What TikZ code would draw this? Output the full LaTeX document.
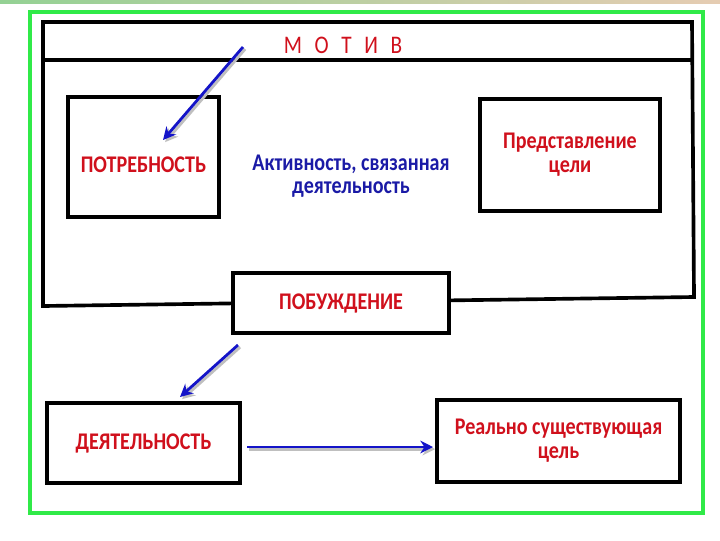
\documentclass[tikz,border=0pt]{standalone}
\usepackage{fontspec}
\setmainfont{Carlito}
\newfontfamily\narrowfont[FakeStretch=0.84]{Carlito}
\usepackage{xcolor}
\usetikzlibrary{positioning, arrows.meta}
\definecolor{motivred}{HTML}{D0101C}
\definecolor{textblue}{HTML}{1A1AA6}
\definecolor{arrowblue}{HTML}{1414C8}
\definecolor{framegreen}{HTML}{30EA48}

\begin{document}
\begin{tikzpicture}[x=0.025cm, y=-0.025cm,
    box/.style={draw, line width=2.6pt, fill=white, inner sep=0pt, align=center,
      text=motivred, font=\narrowfont\bfseries\fontsize{17}{17}\selectfont},
    arr/.style={-{Stealth[length=9pt, width=9pt]}, line width=2pt, draw=arrowblue,
      preaction={draw=black!25, line width=2pt,
        transform canvas={shift={(1.5pt,-1.5pt)}}}}]
    \useasboundingbox[fill=white] (0,0) rectangle (720,540);
    \fill[left color=green!40!gray!60, right color=brown!40] (0,0) rectangle (720,3);
    \draw[framegreen, line width=2.2pt] (30,12) rectangle (703,513);
    % motiv frame
    \draw[line width=2.6pt] (43,22) -- (692,22) -- (694,297) -- (43,306) -- cycle;
    \draw[line width=2.6pt] (44,60) -- (692,60);
    \node[text=motivred, font=\narrowfont\fontsize{18}{18}\selectfont] (motiv) at (343,45)
      {М\hspace{0.5em}О\hspace{0.5em}Т\hspace{0.5em}И\hspace{0.5em}В};
    \node[box, minimum width=3.775cm, minimum height=3cm] (need) at (143.5,157)
      {\raisebox{-11pt}[0pt][0pt]{ПОТРЕБНОСТЬ}};
    \node[box, minimum width=4.5cm, minimum height=2.8cm] (goalidea) at (570,155)
      {Представление\\цели};
    \node[text=textblue, align=center, font=\narrowfont\bfseries\fontsize{17}{16.5}\selectfont]
      (activ) at (351,176) {Активность, связанная\\деятельность};
    \node[box, minimum width=5.4cm, minimum height=1.5cm] (urge) at (341,303) {ПОБУЖДЕНИЕ};
    \node[box, minimum width=4.825cm, minimum height=2cm] (activity) at (143.5,443) {ДЕЯТЕЛЬНОСТЬ};
    \node[box, minimum width=6.075cm, minimum height=2.05cm] (realgoal) at (558.5,441)
      {Реально существующая\\цель};
    % arrows
    \coordinate (a1) at (243,47);
    \coordinate (b1) at (163,140);
    \coordinate (a2) at (238,345);
    \coordinate (b2) at (180,397);
    \coordinate (a3) at (247,447);
    \coordinate (b3) at (433,447);
    \draw[arr] (a1) -- (b1);
    \draw[arr] (a2) -- (b2);
    \draw[arr] (a3) -- (b3);
\end{tikzpicture}
\end{document}
